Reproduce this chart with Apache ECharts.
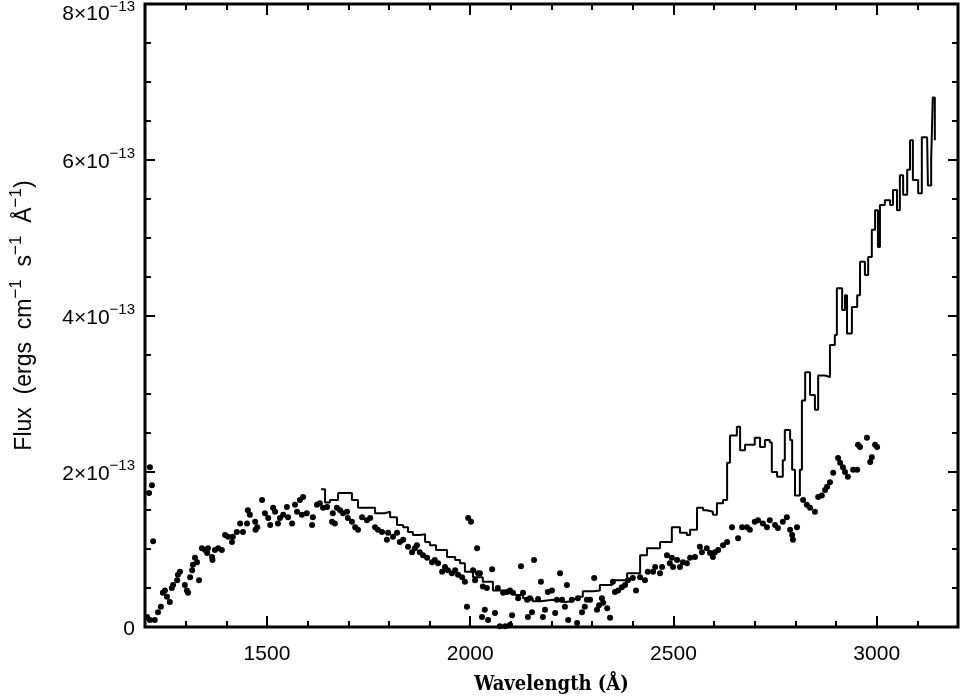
<!DOCTYPE html>
<html>
<head>
<meta charset="utf-8">
<script src="https://cdn.jsdelivr.net/npm/echarts@6/dist/echarts.min.js"></script>
<style>
  html, body { margin: 0; padding: 0; background: #fff; }
  #chart { width: 960px; height: 696px; }
</style>
</head>
<body>
<div id="chart"></div>
<script>
// flux in units of 1e-13 ergs cm^-1 s^-1 A^-1
const lineWave = [1633, 1643, 1655, 1675, 1697, 1709, 1724, 1753, 1766, 1790, 1803, 1820, 1835, 1847,
  1859, 1876, 1889, 1901, 1916, 1943, 1963, 1975, 1987, 2007, 2031, 2056, 2086, 2110, 2130, 2154,
  2172, 2204, 2221, 2233, 2253, 2263, 2277, 2302, 2319, 2344, 2349, 2376, 2386, 2400, 2418, 2435,
  2450, 2467, 2484, 2496, 2516, 2533, 2541, 2558, 2573, 2582, 2597, 2607, 2622, 2632, 2639, 2656,
  2664, 2676, 2688, 2700, 2713, 2725, 2737, 2742, 2755, 2769, 2774, 2787, 2792, 2799, 2811, 2816,
  2824, 2836, 2848, 2856, 2873, 2885, 2897, 2902, 2915, 2922, 2927, 2939, 2952, 2959, 2971, 2979,
  2988, 2996, 3003, 3008, 3020, 3033, 3040, 3050, 3057, 3065, 3075, 3082, 3089, 3102, 3111, 3124,
  3126, 3134, 3138, 3143];
const lineFlux = [1.77, 1.60, 1.63, 1.72, 1.72, 1.63, 1.53, 1.53, 1.46, 1.48, 1.41, 1.31, 1.28, 1.22,
  1.18, 1.19, 1.09, 1.05, 0.99, 0.90, 0.86, 0.82, 0.71, 0.64, 0.58, 0.47, 0.45, 0.41, 0.37, 0.33,
  0.35, 0.33, 0.32, 0.33, 0.36, 0.39, 0.46, 0.47, 0.54, 0.54, 0.60, 0.60, 0.69, 0.69, 0.92, 1.01,
  1.01, 1.09, 1.09, 1.28, 1.21, 1.18, 1.25, 1.53, 1.50, 1.48, 1.44, 1.59, 1.63, 2.11, 2.46, 2.57,
  2.27, 2.34, 2.34, 2.43, 2.31, 2.40, 2.37, 1.99, 1.93, 2.14, 2.53, 2.40, 2.02, 1.69, 2.02, 2.91,
  3.27, 2.98, 2.79, 3.23, 3.21, 3.62, 3.75, 4.35, 4.07, 4.26, 3.77, 4.11, 4.26, 4.69, 4.52, 4.75,
  5.10, 5.35, 4.88, 5.42, 5.48, 5.42, 5.61, 5.35, 5.80, 5.55, 5.87, 6.25, 5.74, 5.57, 6.29, 6.29,
  5.67, 6.00, 6.80, 6.25];

const dotWave = [1212, 1217, 1210, 1220, 1205, 1212, 1224, 1232, 1239, 1244, 1249, 1254, 1261, 1266,
  1269, 1279, 1281, 1286, 1298, 1303, 1306, 1311, 1316, 1318, 1323, 1328, 1333, 1340, 1348, 1353,
  1355, 1365, 1366, 1372, 1380, 1389, 1397, 1404, 1414, 1416, 1426, 1434, 1441, 1451, 1453, 1458,
  1471, 1472, 1476, 1488, 1495, 1503, 1508, 1515, 1520, 1527, 1532, 1540, 1549, 1552, 1562, 1569,
  1574, 1581, 1589, 1586, 1598, 1611, 1613, 1623, 1630, 1638, 1648, 1660, 1662, 1667, 1672, 1680,
  1687, 1697, 1699, 1709, 1717, 1724, 1734, 1746, 1754, 1766, 1773, 1783, 1795, 1798, 1810, 1820,
  1827, 1835, 1847, 1857, 1864, 1869, 1876, 1884, 1894, 1906, 1913, 1921, 1931, 1938, 1945, 1955,
  1963, 1970, 1980, 1987, 1995, 2002, 1992, 2017, 2007, 2019, 2012, 2024, 2031, 2041, 2036, 2029,
  2044, 2054, 2061, 2068, 2081, 2091, 2098, 2105, 2103, 2073, 2086, 2098, 2125, 2118, 2130, 2140,
  2142, 2147, 2152, 2157, 2167, 2174, 2179, 2184, 2191, 2201, 2209, 2213, 2221, 2226, 2233, 2238,
  2241, 2250, 2263, 2265, 2275, 2282, 2287, 2295, 2305, 2312, 2317, 2324, 2327, 2337, 2344, 2351,
  2356, 2364, 2373, 2381, 2388, 2400, 2408, 2418, 2430, 2437, 2450, 2455, 2467, 2472, 2484, 2491,
  2496, 2499, 2509, 2516, 2523, 2533, 2541, 2553, 2565, 2570, 2582, 2590, 2597, 2602, 2610, 2622,
  2632, 2644, 2659, 2669, 2681, 2688, 2700, 2708, 2720, 2730, 2737, 2750, 2757, 2769, 2779, 2787,
  2792, 2794, 2804, 2819, 2828, 2836, 2848, 2856, 2865, 2873, 2878, 2885, 2893, 2905, 2910, 2917,
  2922, 2929, 2942, 2952, 2954, 2959, 2976, 2984, 2988, 2996, 3001];
const dotFlux = [2.05, 1.82, 1.72, 1.10, 0.13, 0.09, 0.09, 0.19, 0.26, 0.44, 0.47, 0.39, 0.32, 0.50,
  0.54, 0.60, 0.67, 0.71, 0.54, 0.47, 0.44, 0.64, 0.73, 0.80, 0.89, 0.83, 0.60, 1.01, 0.99, 0.95,
  1.01, 0.90, 0.86, 0.99, 1.01, 0.99, 1.18, 1.16, 1.09, 1.16, 1.22, 1.33, 1.22, 1.33, 1.50, 1.44,
  1.35, 1.25, 1.28, 1.63, 1.46, 1.40, 1.31, 1.53, 1.48, 1.33, 1.40, 1.44, 1.54, 1.41, 1.33, 1.57,
  1.48, 1.63, 1.67, 1.44, 1.46, 1.31, 1.41, 1.57, 1.59, 1.53, 1.54, 1.35, 1.46, 1.33, 1.53, 1.50,
  1.46, 1.48, 1.40, 1.35, 1.28, 1.25, 1.41, 1.37, 1.40, 1.28, 1.25, 1.22, 1.12, 1.21, 1.16, 1.21,
  1.09, 1.12, 1.03, 0.96, 1.01, 1.05, 0.96, 0.92, 0.89, 0.83, 0.86, 0.82, 0.71, 0.77, 0.73, 0.69,
  0.73, 0.67, 0.64, 0.58, 1.40, 1.35, 0.26, 1.01, 0.73, 0.69, 0.60, 0.69, 0.52, 0.50, 0.22, 0.13,
  0.09, 0.74, 0.18, 0.50, 0.44, 0.45, 0.47, 0.44, 0.15, 0.01, 0.01, 0.03, 0.78, 0.37, 0.44, 0.35,
  0.13, 0.37, 0.19, 0.86, 0.36, 0.58, 0.13, 0.22, 0.45, 0.47, 0.18, 0.35, 0.69, 0.35, 0.26, 0.54,
  0.09, 0.35, 0.05, 0.37, 0.19, 0.26, 0.35, 0.35, 0.63, 0.22, 0.28, 0.37, 0.31, 0.24, 0.12, 0.58,
  0.45, 0.47, 0.51, 0.54, 0.60, 0.63, 0.47, 0.64, 0.60, 0.71, 0.71, 0.77, 0.69, 0.77, 0.92, 0.82,
  0.89, 0.77, 0.86, 0.77, 0.83, 0.82, 0.89, 0.90, 1.03, 0.96, 1.01, 0.95, 0.90, 0.96, 0.99, 1.05,
  1.09, 1.28, 1.14, 1.28, 1.28, 1.25, 1.35, 1.37, 1.33, 1.28, 1.37, 1.31, 1.27, 1.35, 1.41, 1.25,
  1.18, 1.12, 1.28, 1.63, 1.57, 1.53, 1.48, 1.67, 1.69, 1.76, 1.80, 1.86, 1.98, 2.17, 2.11, 2.05,
  1.99, 1.93, 2.02, 2.02, 2.34, 2.31, 2.43, 2.12, 2.18, 2.34, 2.31];

const xMajor = [1500, 2000, 2500, 3000];
const xMinor = [1300, 1400, 1600, 1700, 1800, 1900, 2100, 2200, 2300, 2400, 2600, 2700, 2800, 2900, 3100];

const sansFont = '"Liberation Sans", Arial, sans-serif';

const xBase = {
  type: "value", min: 1200, max: 3200,
  splitLine: { show: false },
  axisLine: { show: false },
  axisLabel: { show: false }
};

const yBase = {
  type: "value", min: 0, max: 8, interval: 2,
  splitLine: { show: false },
  axisLine: { show: false },
  axisLabel: { show: false },
  axisTick: { inside: true, length: 10, lineStyle: { color: "#000", width: 2 } },
  minorTick: { show: true, splitNumber: 4, length: 6, lineStyle: { color: "#000", width: 2 } }
};

const chart = echarts.init(document.getElementById("chart"), null, { renderer: "canvas" });

chart.setOption({
  animation: false,
  backgroundColor: "#fff",
  grid: {
    left: 145, right: 2, top: 4, bottom: 69,
    containLabel: false, outerBoundsMode: "none",
    show: true, borderColor: "#000", borderWidth: 3
  },
  xAxis: [
    Object.assign({}, xBase, {
      position: "bottom",
      name: "Wavelength (Å)",
      nameLocation: "middle",
      nameGap: 48,
      nameTextStyle: { color: "#000", fontSize: 20, fontWeight: "bold", fontFamily: '"DejaVu Serif Condensed", "DejaVu Serif", serif' },
      axisTick: { inside: true, length: 11, customValues: xMajor, lineStyle: { color: "#000", width: 2 } },
      axisLabel: {
        show: true, customValues: xMajor, margin: 17, color: "#000", fontSize: 21, fontFamily: sansFont,
        formatter: v => String(v)
      }
    }),
    Object.assign({}, xBase, {
      position: "bottom",
      axisTick: { inside: true, length: 6, customValues: xMinor, lineStyle: { color: "#000", width: 2 } }
    }),
    Object.assign({}, xBase, {
      position: "top",
      axisTick: { inside: true, length: 11, customValues: xMajor, lineStyle: { color: "#000", width: 2 } }
    }),
    Object.assign({}, xBase, {
      position: "top",
      axisTick: { inside: true, length: 6, customValues: xMinor, lineStyle: { color: "#000", width: 2 } }
    })
  ],
  yAxis: [
    Object.assign({}, yBase, {
      position: "left",
      name: "{n|Flux  (ergs  cm}{s|−1}{n|  s}{s|−1}{n|  Å}{s|−1}{n|)}",
      nameLocation: "middle",
      nameGap: 109,
      nameTextStyle: {
        color: "#000",
        rich: {
          n: { fontSize: 23, fontFamily: sansFont, color: "#000", lineHeight: 28, verticalAlign: "bottom" },
          s: { fontSize: 17, fontFamily: sansFont, color: "#000", lineHeight: 17, verticalAlign: "top" }
        }
      },
      axisLabel: {
        show: true,
        margin: 10,
        color: "#000",
        formatter: v => {
          if (v === 0) return "{a|0}";
          const txt = `{a|${v}×10}{e|−13}`;
          return v === 8 ? "{g| }\n" + txt : txt;
        },
        rich: {
          a: { fontSize: 21, fontFamily: sansFont, color: "#000", lineHeight: 26, verticalAlign: "bottom" },
          e: { fontSize: 15, fontFamily: sansFont, color: "#000", lineHeight: 15, verticalAlign: "top" },
          g: { fontSize: 10, lineHeight: 16 }
        }
      }
    }),
    Object.assign({}, yBase, { position: "right" })
  ],
  series: [
    {
      name: "Spectrum",
      type: "line",
      step: "end",
      xAxisIndex: 0,
      yAxisIndex: 0,
      showSymbol: false,
      lineStyle: { color: "#000", width: 2 },
      data: lineWave.map((w, i) => [w, lineFlux[i]])
    },
    {
      name: "Model",
      type: "scatter",
      xAxisIndex: 0,
      yAxisIndex: 0,
      symbol: "circle",
      symbolSize: 6,
      itemStyle: { color: "#000", opacity: 1 },
      data: dotWave.map((w, i) => [w, dotFlux[i]])
    }
  ]
});

window.addEventListener("resize", () => chart.resize());
</script>
</body>
</html>
